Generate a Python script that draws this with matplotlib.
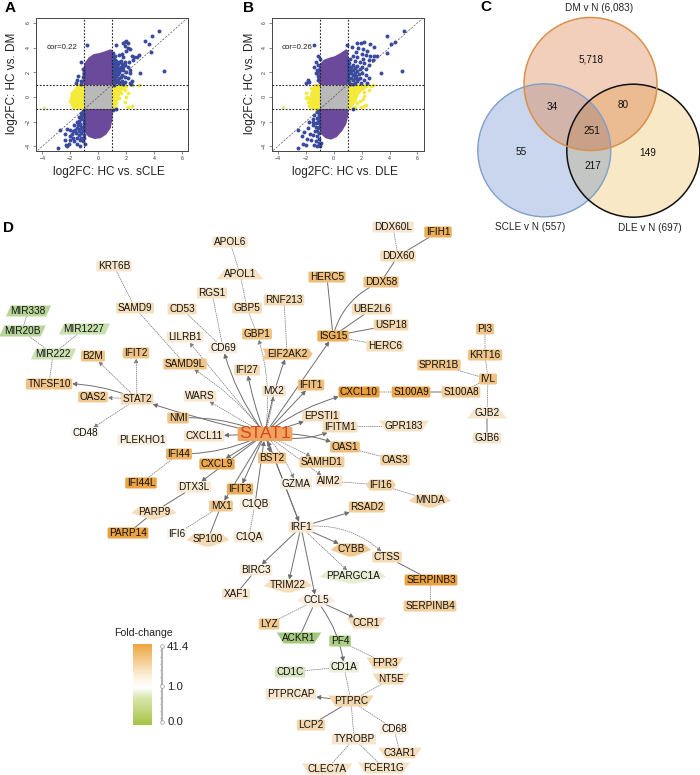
import numpy as np
import matplotlib
matplotlib.use('Agg')
import matplotlib.pyplot as plt
from matplotlib.colors import LinearSegmentedColormap
from matplotlib.patches import Circle, Polygon, FancyBboxPatch, FancyArrowPatch, Rectangle

plt.rcParams['font.family'] = ['Liberation Sans', 'DejaVu Sans']

# panel A / B scatter (log2FC)
a_blue = [(4.33,5.35),(3.83,4.97),(3.33,4.5),(3.67,4.32),(3.76,3.6),(-0.79,4.2),(1.26,4.2),(4.71,2.1),(2.98,1.97),
          (2.3,3.9),(2.0,4.5),(1.9,4.45),(1.8,4.35),(2.1,4.4),(1.9,4.1),(2.15,4.0),(2.0,3.75),(1.7,3.45),(2.4,3.3),
          (2.6,3.25),(2.8,3.2),(2.9,3.4),(2.5,3.0),(2.2,2.8),(1.8,3.2),(1.5,3.4),(1.2,3.3),(1.1,3.1),(1.3,2.9),
          (1.5,2.8),(1.7,2.7),(1.9,2.6),(2.1,2.4),(1.1,2.6),(1.35,2.5),(1.6,2.4),(1.8,2.2),(2.0,2.0),(2.3,1.9),
          (1.1,2.2),(1.3,2.1),(1.5,2.0),(1.7,1.8),(1.9,1.6),(2.15,1.5),(2.4,1.3),(1.1,1.8),(1.3,1.7),(1.5,1.5),
          (1.7,1.3),(1.95,1.2),(2.3,1.15),(1.1,1.4),(1.3,1.25),(1.5,1.1),(1.15,1.1),(2.35,1.05),(1.05,2.9),(1.2,2.35),
          (1.05,1.6),(1.2,1.55),(1.05,2.0),(1.25,1.9),(1.4,2.25),(1.05,1.2),(1.05,2.4),(1.2,2.7),
          (1.05,3.3),(1.05,2.75),(1.2,3.0),(1.4,2.7),(1.45,2.35),(1.55,2.2),(1.3,2.3),(1.15,2.05),(1.4,1.85),(1.6,1.6),
          (1.25,1.4),(1.4,1.3),(1.6,1.2),(1.8,1.05),(1.1,1.0),(1.75,2.45),(1.6,2.95),(1.95,2.85),(2.25,2.15),(1.05,3.55),
          (-1.45,1.7),(-1.55,1.4),(-1.6,1.1),(-1.2,1.3),(-1.25,1.05),(-1.05,1.9),(-1.2,2.8),(-1.1,2.3),(-1.1,1.6),
          (-2.85,-4.1),(-2.7,-2.65),(-2.4,-3.0),(-2.35,-3.5),(-2.3,-3.9),(-2.2,-4.0),(-2.1,-3.85),(-2.05,-3.5),
          (-2.2,-2.6),(-2.0,-2.7),(-1.9,-3.0),(-1.8,-3.3),(-1.7,-3.6),(-1.5,-3.85),(-1.3,-3.95),(-2.0,-3.2),
          (-1.8,-2.8),(-1.6,-2.9),(-1.4,-3.1),(-1.2,-3.3),(-1.1,-3.6),(-0.95,-3.8),(-1.7,-2.3),(-1.5,-2.5),
          (-1.3,-2.6),(-1.1,-2.8),(-1.5,-2.0),(-1.3,-2.2),(-1.1,-2.4),(-1.4,-1.6),(-1.2,-1.8),(-1.05,-2.0),
          (-1.2,-1.3),(-1.05,-1.5),(-1.1,-1.1),(1.3,-1.0),(1.05,-1.05),(-1.05,-3.1),(-1.25,-2.9),(-1.05,-2.2),
          (-1.35,-1.95),(-1.25,-1.55),(-1.45,-2.25),(-1.2,-2.45),(-1.35,-2.75),(-1.65,-2.65),(-1.05,-1.75),(-1.1,-1.35),
          (-1.5,-3.3),(-1.3,-3.5),(-1.05,-2.6),(-0.98,-3.35)]
a_yellow = [(-1.9,-0.6),(-2.0,-0.3),(-1.9,0.0),(-1.85,0.3),(-1.7,0.5),(-1.6,0.75),(-1.5,0.95),(-1.8,-0.85),(-1.5,-0.9),
            (1.4,0.95),(1.7,0.95),(2.0,0.9),(2.4,0.95),(2.9,0.95),(1.9,0.6),(2.1,0.3),(2.0,0.0),(1.95,-0.4),
            (1.6,0.3),(1.5,-0.1),(1.3,-0.5),(1.2,-0.8),(2.1,-0.85),(2.4,-0.7)]
a_purple_hi = [(-1,1),(-1.08,1.6),(-1.05,2.2),(-0.9,2.75),(-0.65,3.15),(-0.3,3.42),(0.1,3.5),(0.5,3.65),(0.9,3.8),(1,3.7),(1,1)]
a_purple_lo = [(-1,-1),(-1,-2.3),(-0.92,-2.85),(-0.65,-3.2),(-0.25,-3.35),(0.15,-3.3),(0.55,-3.0),(0.85,-2.5),(0.98,-1.8),(1,-1)]
a_yellow_l = [(-1,1),(-1.4,1),(-1.55,0.65),(-1.9,0.3),(-2,-0.4),(-1.85,-0.75),(-1.35,-0.95),(-1,-1)]
a_yellow_r = [(1,1),(2.0,1),(1.95,0.75),(1.6,0.45),(1.45,0),(1.25,-0.6),(1,-1)]
a_outlier = [(-3.9,-0.9)]

b_blue = [(5.0,5.35),(3.83,4.95),(4.38,4.49),(4.07,4.27),(3.81,3.54),(-1.4,4.19),(0.98,4.19),(4.86,2.08),(3.36,1.95),
          (1.64,4.4),(1.93,4.4),(2.19,4.49),(2.6,4.27),(2.88,4.08),(1.3,4.08),(1.75,4.0),(2.1,3.85),(2.4,3.75),
          (1.6,3.6),(2.0,3.5),(2.3,3.4),(2.6,3.35),(2.9,3.35),(3.1,3.3),(1.35,3.35),(1.7,3.2),(2.1,3.1),(2.5,3.0),
          (2.85,3.0),(1.2,3.1),(1.5,2.9),(1.85,2.8),(2.2,2.75),(2.55,2.6),(1.1,2.75),(1.35,2.6),(1.7,2.5),(2.0,2.4),
          (2.3,2.3),(1.1,2.35),(1.4,2.2),(1.7,2.1),(2.0,1.95),(2.3,1.8),(2.55,1.55),(1.1,1.95),(1.35,1.8),(1.6,1.7),
          (1.9,1.55),(2.2,1.4),(1.1,1.55),(1.35,1.4),(1.65,1.3),(1.95,1.15),(2.35,1.1),(1.1,1.2),(1.4,1.05),
          (1.05,3.0),(1.25,2.4),(1.55,2.35),(1.05,1.75),(1.25,1.55),(1.5,1.95),(1.8,1.85),
          (1.05,2.55),(1.2,2.15),(1.05,2.15),(1.25,1.95),(1.5,1.5),(1.75,1.45),(1.05,1.35),(1.2,1.05),(1.55,1.15),(1.85,2.25),
          (-1.1,3.3),(-1.0,3.05),(-1.3,2.8),(-1.4,2.4),(-1.15,2.55),(-1.05,2.2),(-1.85,1.35),(-1.75,1.2),(-1.95,1.1),
          (-1.3,1.95),(-1.1,1.7),(-1.15,1.35),(-1.2,2.15),
          (-2.57,-4.1),(-2.57,-2.68),(-2.17,-3.8),(-2.3,-3.2),(-2.0,-3.9),(-1.9,-3.4),(-2.1,-2.85),(-1.85,-2.55),
          (-1.7,-3.0),(-1.6,-3.5),(-1.4,-3.9),(-1.2,-4.0),(-1.05,-3.75),(-1.5,-2.3),(-1.35,-2.8),(-1.2,-3.2),
          (-1.05,-3.4),(-1.75,-2.0),(-1.5,-1.75),(-1.3,-2.1),(-1.15,-2.5),(-1.05,-2.9),(-1.4,-1.5),(-1.2,-1.7),
          (-1.05,-2.1),(-1.2,-1.25),(-1.05,-1.5),(-1.1,-1.1),(1.4,-1.0),(-0.95,-4.0),(-0.9,-3.7),
          (-1.3,-2.45),(-1.45,-2.05),(-1.15,-1.95),(-1.2,-2.75),(-1.5,-3.1),(-1.05,-2.4),(-1.05,-1.8),(-1.3,-3.55)]
b_yellow = [(-1.95,0.3),(-1.9,0.0),(-1.85,-0.4),(-1.8,-0.75),(-1.6,0.75),(-1.55,-0.9),(-1.35,0.95),(-1.3,-1.0),(-1.95,-0.05),
            (2.8,0.95),(2.65,0.85),(2.5,0.6),(2.3,0.95),(2.1,0.75),(2.2,0.4),(2.15,0.1),(2.1,-0.2),(1.9,-0.35),(1.7,-0.5),
            (1.55,-0.8),(2.3,-0.65),(2.15,-0.75),(1.95,-0.8),(1.5,0.1),(1.4,-0.3)]
b_purple_hi = [(-1,1),(-1.12,1.5),(-1.08,2.1),(-0.95,2.6),(-0.7,2.95),(-0.3,3.12),(0.1,3.25),(0.5,3.5),(0.9,3.8),(1,3.7),(1,1)]
b_purple_lo = [(-1,-1),(-1,-2.5),(-0.85,-3.0),(-0.55,-3.3),(-0.2,-3.4),(0.2,-3.2),(0.55,-2.75),(0.85,-2.2),(1,-1.5),(1,-1)]
b_yellow_l = [(-1,1),(-1.3,1),(-1.5,0.6),(-1.65,0.2),(-1.8,-0.5),(-1.65,-0.85),(-1.2,-0.97),(-1,-1)]
b_yellow_r = [(1,1),(2.6,1),(2.4,0.8),(2.0,0.5),(1.75,0.2),(1.6,-0.3),(1.3,-0.8),(1,-1)]
b_outlier = [(-3.65,-0.85)]

scatter_ticks = [-4, -2, 0, 2, 4, 6]

# panel C venn counts
venn_names = ['DM v N (6,083)', 'SCLE v N (557)', 'DLE v N (697)']
venn_counts = ['5,718', '34', '80', '251', '55', '149', '217']

# panel D network
node_names = ['KRT6B','SAMD9','CD53','RGS1','APOL6','APOL1','MIR338','MIR20B','MIR1227','MIR222','B2M','IFIT2','LILRB1','CD69',
              'SAMD9L','WARS','TNFSF10','OAS2','STAT2','NMI','DDX60L','IFIH1','DDX60','HERC5','DDX58','RNF213','GBP5','UBE2L6',
              'USP18','ISG15','GBP1','HERC6','EIF2AK2','IFI27','MX2','IFIT1','CXCL10','S100A9','S100A8','SPRR1B','EPSTI1',
              'PI3','KRT16','IVL','GJB2','GJB6','CD48','PLEKHO1','CXCL11','STAT1','IFI44','CXCL9','BST2','IFI44L','DTX3L','IFIT3',
              'GZMA','MX1','C1QB','PARP9','PARP14','IFI6','SP100','C1QA','BIRC3','XAF1','TRIM22','AIM2','IFI16','MNDA','RSAD2',
              'IRF1','CYBB','CTSS','PPARGC1A','SERPINB3','SERPINB4','CCL5','CCR1','LYZ','ACKR1','PF4','FPR3','CD1A','CD1C','NT5E',
              'PTPRCAP','PTPRC','LCP2','CD68','TYROBP','C3AR1','CLEC7A','FCER1G','IFITM1','GPR183','OAS1','OAS3','SAMHD1']
node_x = [114,135,182,212,230,240,28,22,84,53,93,136,185,223,
          185,200,49,93,137,178,393,438,398,327,381,284,247,372,
          391,333,257,385,287,247,274,311,359,411,461,439,321,
          485,485,488,487,487,85,142,204,265,179,217,272,141,194,240,
          296,221,255,154,128,177,208,249,256,236,288,329,381,430,367,
          301,351,387,353,431,430,316,366,269,299,340,385,344,290,391,
          291,351,311,394,354,400,327,384,340,404,345,395,322]
node_y = [266,308,309,293,242,274,311,331,329,354,356,353,337,348,
          364,396,384,397,399,418,227,232,256,277,282,300,308,309,
          325,336,334,346,354,370,391,385,392,392,392,365,416,
          329,355,379,413,438,433,440,436,434,454,464,458,483,487,489,
          484,506,504,512,533,534,539,537,570,594,585,481,485,500,507,
          527,549,557,576,580,606,600,623,624,638,641,663,667,672,679,
          694,701,725,729,739,753,769,768,427,426,447,460,462]
# fold-change level: +1 full orange, 0 white, -1 full green
node_fc = [.2,.3,.3,.25,.2,.25,-.6,-.6,-.5,-.45,.6,.6,.15,.1,
           .6,.2,.6,.55,.35,.6,.2,.8,.3,.65,.6,.35,.35,.3,
           .4,.8,.6,.3,.6,.35,.2,.65,.95,.85,.5,.6,.3,
           .6,.6,.6,.2,.2,0,.1,.2,1,.75,.85,.6,.9,.15,.8,
           .1,.55,.1,.3,.9,0,.35,.15,.12,.2,.3,.2,.45,.4,.5,
           .2,.55,.35,-.2,.9,.5,.1,.35,.55,-.75,-.7,.4,-.15,-.35,.35,
           .2,.4,.4,.1,.2,.3,.25,.25,.3,.25,.65,.45,.5]
para_nodes = ['MIR338','MIR20B','MIR1227','MIR222']
up_nodes = ['APOL1','GJB2']
down_nodes = ['GPR183','ACKR1','FPR3','CCR1','NT5E','PTPRC','C3AR1','CLEC7A','FCER1G']
star_nodes = ['PARP9','MNDA','PPARGC1A','CCL5','TRIM22','SP100','CYBB']
hex_nodes = ['IFI16']
chevron_nodes = ['EIF2AK2']

# (from, to, bend)
edges_dotted = [('KRT6B','SAMD9',0),('MIR338','MIR20B',0),('MIR20B','MIR222',0),('MIR1227','MIR222',0),('MIR222','TNFSF10',0),
                ('APOL6','APOL1',0),('APOL1','GBP5',0),('GBP5','GBP1',0),('RNF213','EIF2AK2',0),('DDX60L','DDX60',0),
                ('CD53','CD69',0),('RGS1','CD69',0),('HERC6','ISG15',0),('PI3','KRT16',0),('KRT16','IVL',0),('SPRR1B','IVL',0),
                ('S100A8','IVL',0),('IVL','GJB2',0),('CXCL10','S100A9',0),('IFITM1','GPR183',0),('OAS1','OAS3',0),
                ('AIM2','IFI16',0),('IFI16','MNDA',0),('MX1','IFI6',0),('C1QB','C1QA',0),('IFI44','IFI44L',0),
                ('SERPINB3','SERPINB4',0),('CCL5','LYZ',0),('CD1A','CD1C',0),('PF4','FPR3',0),('CD1A','PTPRC',0),('NT5E','PTPRC',0),
                ('PTPRC','TYROBP',0),('PTPRC','CD68',0),('CD68','C3AR1',0),('TYROBP','CLEC7A',0),('TYROBP','FCER1G',0),
                ('SAMD9','SAMD9L',0)]
edges_solid = [('IFIH1','DDX60',0),('DDX60','DDX58',0),('DDX58','ISG15',.25),('HERC5','ISG15',0),('UBE2L6','ISG15',0),('USP18','ISG15',0),
               ('S100A9','S100A8',0),('GJB2','GJB6',0),('DTX3L','PARP9',0),('PARP9','PARP14',0),('SP100','MX1',0),('BIRC3','XAF1',0),
               ('CTSS','SERPINB3',0),('CCL5','ACKR1',0),('PTPRC','LCP2',0),('STAT1','IFI44',-.12),('STAT1','NMI',.12)]
arrows_dotted = [('STAT2','B2M',0),('STAT2','IFIT2',0),('STAT2','OAS2',0),('STAT2','CD48',0),('STAT1','MX2',.05),('STAT1','SAMHD1',0),
                 ('STAT1','GZMA',-.1),('STAT1','AIM2',0),('STAT1','GBP1',.12),('STAT1','WARS',0),('STAT1','SAMD9L',.1),('STAT1','LILRB1',0),
                 ('IRF1','CTSS',-.25),('IRF1','PPARGC1A',0)]
arrows_solid = [('STAT1','STAT2',-.03),('STAT2','TNFSF10',.12),('STAT1','CXCL11',0),('STAT1','IFI27',-.05),('STAT1','EIF2AK2',-.05),
                ('STAT1','ISG15',0),('STAT1','IFIT1',0),('STAT1','CXCL10',-.12),('STAT1','EPSTI1',0),('STAT1','IFITM1',.2),('STAT1','OAS1',-.12),
                ('STAT1','CXCL9',0),('STAT1','DTX3L',0),('STAT1','IFIT3',0),('STAT1','MX1',0),('STAT1','BST2',0),('C1QB','STAT1',0),
                ('STAT1','IRF1',0),('IRF1','STAT1',0),('STAT1','CD69',-.1),('IRF1','RSAD2',0),('IRF1','CYBB',0),('IRF1','BIRC3',0),
                ('IRF1','TRIM22',0),('IRF1','CCL5',0),('CCL5','CCR1',0),('CCL5','CD1A',-.15),('PTPRC','PTPRCAP',0)]

legend_labels = ['41.4', '1.0', '0.0']

W, H = 700, 775
fig = plt.figure(figsize=(W / 100, H / 100), dpi=100, facecolor='white')
ax = fig.add_axes([0, 0, 1, 1])
ax.set_xlim(0, W)
ax.set_ylim(H, 0)
ax.axis('off')


def scatter_panel(left, xlabel, ylabel_x, cor, blue, yellow, purple_hi, purple_lo, yellow_l, yellow_r, outlier):
    sub = fig.add_axes([left / W, 1 - 151 / H, 152 / W, 132.7 / H])
    sub.set_xlim(-4.45, 6.43)
    sub.set_ylim(-4.38, 6.37)
    purple = '#6b4a9b'
    yel = '#f4ea3a'
    sub.add_patch(Polygon(purple_hi, fc=purple, ec=purple, lw=1.0, zorder=1))
    sub.add_patch(Polygon(purple_lo, fc=purple, ec=purple, lw=1.0, zorder=1))
    sub.add_patch(Polygon(yellow_l, fc=yel, ec=yel, lw=1.0, zorder=1))
    sub.add_patch(Polygon(yellow_r, fc=yel, ec=yel, lw=1.0, zorder=1))
    sub.add_patch(Rectangle((-1, -1), 2, 2, fc='#b9b9b9', ec='none', zorder=2))
    sub.scatter(*zip(*yellow), s=7, c=yel, lw=0, zorder=2)
    sub.scatter(*zip(*outlier), s=8, c='#e6e69a', lw=0, zorder=2)
    sub.scatter(*zip(*blue), s=8, c='#3a4a9e', lw=0, zorder=3)
    for v in (-1, 1):
        sub.axvline(v, color='#222222', lw=0.8, ls=(0, (1.5, 1.5)), zorder=4)
        sub.axhline(v, color='#222222', lw=0.8, ls=(0, (1.5, 1.5)), zorder=4)
    sub.plot([-6, 7], [-6, 7], color='#555555', lw=0.5, ls=(0, (3, 2)), zorder=4)
    sub.set_xticks(scatter_ticks)
    sub.set_yticks(scatter_ticks)
    sub.tick_params(length=2, width=0.4, labelsize=3.8, pad=1.5, colors='#333333')
    plt.setp(sub.get_yticklabels(), rotation=90, va='center')
    for s in sub.spines.values():
        s.set_linewidth(0.7)
        s.set_color('#444444')
    sub.text(-3.72, 3.97, cor, fontsize=5.7, va='center', color='#222222')
    ax.text(left + 73, 172, xlabel, fontsize=8.5, ha='center', va='center', color='#222222')
    ax.text(ylabel_x, 83, 'log2FC: HC vs. DM', fontsize=8.5, ha='center', va='center', rotation=90, color='#222222')


scatter_panel(36, 'log2FC: HC vs. sCLE', 12, 'cor=0.22', a_blue, a_yellow, a_purple_hi, a_purple_lo, a_yellow_l, a_yellow_r, a_outlier)
scatter_panel(271.5, 'log2FC: HC vs. DLE', 250, 'cor=0.26', b_blue, b_yellow, b_purple_hi, b_purple_lo, b_yellow_l, b_yellow_r, b_outlier)

for letter, lx, ly in [('A', 10, 7.5), ('B', 248, 7.5), ('C', 486, 7), ('D', 9, 228)]:
    ax.text(lx, ly, letter, fontsize=11, fontweight='bold', ha='center', va='center', color='black')

# venn, regions filled one by one so overlaps get their own colour
centres = [(590.5, 84), (544.3, 150.3), (633.3, 150.7)]
rad = 66.5


def region(ids):
    p = np.mean([centres[i] for i in ids], axis=0)
    th = np.linspace(0, 2 * np.pi, 400)
    d = np.column_stack([np.cos(th), np.sin(th)])
    out = np.full(len(th), np.inf)
    for i in ids:
        q = p - np.array(centres[i])
        b = d @ q
        out = np.minimum(out, -b + np.sqrt(b * b - (q @ q - rad * rad)))
    return p + d * out[:, None]


venn_fill = [((1,), '#c9d6ee'), ((2,), '#f9e8c5'), ((0,), '#f1cfba'), ((1, 2), '#c3c6c2'),
             ((0, 1), '#d3b4aa'), ((0, 2), '#ebbb92'), ((0, 1, 2), '#c9a088')]
for ids, col in venn_fill:
    ax.add_patch(Polygon(region(ids), fc=col, ec='none', zorder=1))
ax.add_patch(Circle(centres[1], rad, fc='none', ec='#7f9fcb', lw=1.0, zorder=2))
ax.add_patch(Circle(centres[2], rad, fc='none', ec='#111111', lw=1.1, zorder=2))
ax.add_patch(Circle(centres[0], rad, fc='none', ec='#d9904a', lw=1.1, zorder=3))
for txt, vx, vy in zip(venn_names, [599, 530, 650], [8, 227, 228]):
    ax.text(vx, vy, txt, fontsize=7.2, ha='center', va='center', color='#222222')
for txt, vx, vy in zip(venn_counts, [591, 552, 623, 592, 521, 648, 593], [59, 107, 105, 131, 152, 153, 166]):
    ax.text(vx, vy, txt, fontsize=7.2, ha='center', va='center', color='#111111', zorder=4)

# network nodes: text first so the shape can be sized to it
node_cmap = LinearSegmentedColormap.from_list('fc', ['#7fb24a', '#c8dfae', '#fbf6ee', '#f2cf9c', '#e8982e'])
renderer = fig.canvas.get_renderer()
patches = {}
for name, nx, ny, fc in zip(node_names, node_x, node_y, node_fc):
    big = name == 'STAT1'
    t = ax.text(nx, ny, name, fontsize=12.5 if big else 7.2, ha='center', va='center',
                color='#d5451f' if big else '#101010', zorder=6)
    bb = t.get_window_extent(renderer)
    w, h = bb.width / 2 + 1.5, 7 if big else 5.5
    col = '#f0a45e' if big else node_cmap((fc + 1) / 2)
    if name in para_nodes:
        pts = [(-w - 3, h), (-w + 2, -h), (w + 4, -h), (w - 1, h)]
    elif name in up_nodes:
        pts = [(-w - 6, h), (-w + 3, -h), (w - 3, -h), (w + 6, h)]
    elif name in down_nodes:
        pts = [(-w - 4, -h), (w + 4, -h), (w - 3, h), (-w + 3, h)]
    elif name in star_nodes:
        pts = [(-w - 5, 1), (-w + 3, -h), (w - 3, -h), (w + 5, 1), (3, h + 2), (-3, h + 2)]
    elif name in hex_nodes:
        pts = [(-w - 2, 0), (-w + 2, -h), (w - 2, -h), (w + 2, 0), (w - 2, h), (-w + 2, h)]
    elif name in chevron_nodes:
        pts = [(-w - 3, -h), (w, -h), (w + 4, 0), (w, h), (-w - 3, h), (-w, 0)]
    else:
        pts = None
    if pts is None:
        p = FancyBboxPatch((nx - w, ny - h), 2 * w, 2 * h, boxstyle='round,pad=0,rounding_size=1.5',
                           fc=col, ec='none', zorder=5)
    else:
        p = Polygon(np.array(pts) + [nx, ny], fc=col, ec='none', zorder=5)
    ax.add_patch(p)
    patches[name] = p

node_pos = dict(zip(node_names, zip(node_x, node_y)))


def draw_edge(a, b, bend, dotted, arrow):
    style = '-|>,head_length=0.55,head_width=0.3' if arrow else '-'
    e = FancyArrowPatch(node_pos[a], node_pos[b], arrowstyle=style, mutation_scale=4.5,
                        connectionstyle=f'arc3,rad={bend}', patchA=patches[a], patchB=patches[b],
                        shrinkA=0, shrinkB=0, lw=0.55 if dotted else 0.7,
                        linestyle=(0, (1.2, 1.6)) if dotted else '-',
                        color='#7c7c7c' if dotted else '#6e6e6e', zorder=4)
    ax.add_patch(e)


for a, b, bend in edges_dotted:
    draw_edge(a, b, bend, True, False)
for a, b, bend in edges_solid:
    draw_edge(a, b, bend, False, False)
for a, b, bend in arrows_dotted:
    draw_edge(a, b, bend, True, True)
for a, b, bend in arrows_solid:
    draw_edge(a, b, bend, False, True)

# fold-change legend
legend_cmap = LinearSegmentedColormap.from_list('bar', [(0, '#a5c544'), (0.33, '#d9e6ad'), (0.45, '#ffffff'),
                                                        (0.58, '#fdf3e2'), (1, '#eda33a')])
bar = fig.add_axes([133.3 / W, 1 - 725 / H, 19 / W, 81 / H])
bar.imshow(np.linspace(1, 0, 256)[:, None], cmap=legend_cmap, aspect='auto', vmin=0, vmax=1)
bar.axis('off')
ax.text(143, 633, 'Fold-change', fontsize=7.6, ha='center', va='center', color='#222222')
ax.plot([161.7, 161.7], [646, 722], color='#b5b5b5', lw=1.5, zorder=1)
ax.scatter([159.5] * 11, np.linspace(650, 718, 11), s=0.8, c='#d5d5d5', lw=0)
ax.scatter([161.7] * 3, [646, 686, 722], s=7, fc='white', ec='#999999', lw=0.5, zorder=2)
for txt, ly in zip(legend_labels, [647, 687, 722]):
    ax.text(167, ly, txt, fontsize=8.2, ha='left', va='center', color='#222222')

fig.savefig('out.png', dpi=100)
